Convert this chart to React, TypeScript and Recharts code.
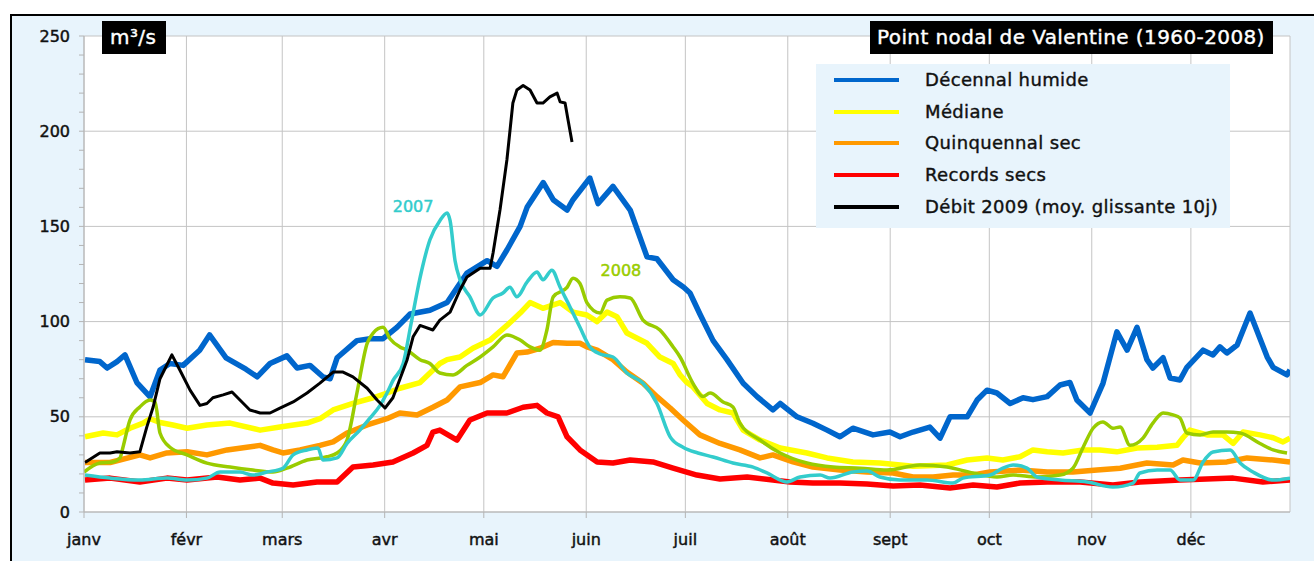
import React from 'react'
import { LineChart, Line, XAxis, YAxis, CartesianGrid, ReferenceDot } from 'recharts'

const FONT = '"DejaVu Sans", Verdana, sans-serif'
const PANEL = '#e8f4fc'

// axes (leap-year calendar, day 0 = 1 Jan)
const monthStarts = [0, 31, 60, 91, 121, 152, 182, 213, 244, 274, 305, 335]
const monthLabels = ['janv', 'févr', 'mars', 'avr', 'mai', 'juin', 'juil', 'août', 'sept', 'oct', 'nov', 'déc']
const gridDays = [0, 31, 60, 91, 121, 152, 182, 213, 244, 274, 305, 335, 365]
const yTicks = [0, 10, 20, 30, 40, 50, 60, 70, 80, 90, 100, 110, 120, 130, 140, 150, 160, 170, 180, 190, 200, 210, 220, 230, 240, 250]
const yGrid = [0, 50, 100, 150, 200, 250]

// series (day of year -> m3/s)
const humideDays = [0.3, 4.8, 7, 10, 12.4, 16, 20, 23, 26, 30, 35, 38, 43, 49, 52.4, 56.3, 61.4, 64.5, 68.4, 72.3, 74.5, 76.6, 82.6, 86.6, 90.5, 94.7, 98.7, 104.7, 109.9, 115.9, 122, 125, 128, 132, 134.1, 139, 142, 146.2, 148, 153.1, 155.6, 160.1, 165.3, 170.4, 173.4, 178.3, 181.5, 183.4, 186.4, 190.4, 194.6, 199.5, 203.7, 208.5, 210.7, 215.8, 220.6, 224.9, 228.8, 232.7, 238.8, 243.9, 247, 250.9, 256, 259.1, 262.1, 267.3, 270.3, 273.3, 276.3, 280.3, 284.2, 287.2, 291.5, 295.4, 298.4, 300.5, 304.5, 308.4, 312.6, 315.7, 318.7, 321.7, 323.5, 326.6, 328.7, 331.7, 333.8, 338.7, 341.7, 343.8, 345.9, 349, 352.9, 358.1, 359.9, 364.1, 365]
const humideFlow = [80, 79, 75.6, 79, 82.5, 68, 60.5, 74.6, 78, 77, 85, 93, 81, 75, 71, 78, 82, 75.6, 77, 71, 70, 81, 90, 91, 91, 97, 104, 106, 110, 125.5, 132, 129, 137.6, 150, 160, 173, 164, 158.6, 164, 175.4, 162, 171, 158.6, 134, 133, 122, 118, 115, 104, 90, 80, 67.6, 60.6, 53.6, 57, 50, 46.6, 43, 39.5, 44, 40.5, 42, 39.5, 42, 44.6, 38.8, 50, 50, 58.8, 64, 62.5, 57, 60, 59, 60.6, 66.7, 68, 58.8, 52, 67.6, 94.6, 85, 97, 80, 75.6, 81, 70.4, 69.3, 76, 85, 82.5, 86.7, 83.5, 87.7, 104.5, 81.4, 76, 72, 74.6]

const medianeDays = [0.3, 5.8, 10, 13.9, 17.9, 20, 23, 26.9, 31.2, 37.2, 44.2, 53.3, 59.3, 67.5, 71.4, 75.4, 81.4, 87.5, 91.7, 95.6, 101.7, 107.7, 109.9, 113.8, 117.7, 122.9, 128, 132, 135, 138.9, 144.1, 148, 152.2, 155.3, 158.3, 161.3, 164.3, 170.4, 174.3, 178.3, 180.4, 182.5, 184.3, 188.6, 192.5, 196.4, 199.5, 204.6, 210.7, 218.8, 224.9, 232.7, 240.9, 250.9, 261.2, 267.3, 273.3, 278.1, 283.3, 287.2, 291.5, 296.3, 302.4, 307.5, 312.6, 318.7, 324.8, 330.8, 332.6, 334.7, 339.9, 344.7, 347.8, 350.8, 355.9, 359.9, 362.9, 365]
const medianeFlow = [39.5, 41.5, 40.5, 44, 46.7, 49, 47, 45.7, 44, 45.7, 46.7, 43, 44.6, 46.7, 49, 53.6, 57, 60, 62.5, 65, 68, 78, 80, 81.4, 86, 90.3, 98, 104.5, 110, 107, 110, 105, 103.5, 100, 105, 102.6, 94, 88.6, 81.4, 78, 72, 68, 65.7, 57, 53.6, 52, 43, 37.8, 33.6, 31, 28.4, 26.3, 25.7, 24, 24.7, 27.3, 28.4, 27.3, 29, 32.6, 31.6, 31, 32.6, 32.6, 31.6, 33.6, 34, 35, 39, 43, 40.5, 40.5, 36, 42, 40.5, 39, 36.8, 38.8]

const quinqDays = [0.3, 7.9, 16.9, 20, 25.1, 31.2, 37.2, 43.3, 49.3, 53.3, 57.2, 60.2, 65.4, 71.4, 75.4, 79.6, 85.7, 91.7, 95.6, 100.8, 105.6, 109.9, 113.8, 119.9, 123.8, 126.8, 131, 134.1, 138, 142, 146.2, 150.1, 152.2, 155.3, 160.1, 164.3, 169.2, 173.4, 177.4, 181.3, 186.4, 192.5, 198.5, 204.6, 208.5, 214.6, 220.6, 228.8, 237, 244.9, 250.9, 257, 263, 269.1, 274.2, 283.3, 291.5, 299.3, 306.6, 313.6, 321.7, 329.6, 332.6, 337.8, 345.9, 352, 359.9, 365]
const quinqFlow = [26, 26, 30, 28.4, 31, 31.6, 30, 32.6, 34, 35, 32.6, 31, 32.6, 35, 36.8, 41.5, 45.7, 49, 52, 51, 55, 58.8, 65.7, 68, 72, 71, 83.5, 84, 86, 89, 88.6, 88.6, 86.7, 85, 80, 73.5, 67.6, 60.6, 54.6, 48.3, 40.5, 36, 32.6, 28.4, 30, 26.3, 23.6, 22, 21, 20.5, 18.4, 18.4, 19.4, 19.4, 21, 22, 21, 21, 22, 23, 25.7, 24.7, 27.3, 25.7, 26.3, 28.4, 27.3, 26.3]

const recordsDays = [0.3, 7.9, 16.9, 25.1, 31.2, 40.3, 47.2, 53.3, 57.2, 63.3, 70.5, 76.6, 81.4, 87.5, 93.5, 99.6, 103.8, 105.6, 107.7, 112.9, 116.8, 122, 128, 132.9, 137.1, 140.1, 143.5, 146.2, 150.1, 155.3, 160.1, 165.3, 172.2, 178.3, 185.5, 192.5, 200.7, 208.5, 213.7, 220.6, 228.8, 237, 244.9, 253, 262.1, 269.1, 276.3, 283.3, 291.5, 301.5, 311.4, 319.6, 331.7, 347.8, 356.8, 365]
const recordsFlow = [16.8, 17.8, 15.8, 17.8, 16.8, 18.4, 16.8, 17.8, 15.2, 14.2, 15.8, 15.8, 23.6, 24.7, 26.3, 31, 35, 42, 43, 37.8, 48.3, 52, 52, 55, 56, 52, 50, 39.5, 32.6, 26.3, 25.7, 27.3, 26.3, 23, 19.4, 17.3, 18.4, 16.8, 15.8, 15.2, 15.2, 14.7, 13.7, 14.2, 12.6, 14.2, 13.1, 15.2, 15.8, 15.8, 14.2, 15.8, 16.8, 17.8, 15.8, 16.8]

const debit2009Days = [0.3, 4.8, 7.9, 10, 13.9, 16.9, 19, 20.9, 23, 26.6, 29, 32.1, 35.1, 37.2, 39, 42.1, 44.8, 47.2, 50.2, 53.3, 56.3, 59.3, 63.3, 67.5, 71.4, 75.4, 78.4, 81.4, 85.7, 88.7, 91.1, 93.5, 97.8, 99.6, 101.7, 105.6, 107.7, 110.8, 113.8, 115.9, 119.9, 122.9, 123.8, 125.9, 128, 129.8, 131, 132.9, 135, 137.1, 138.9, 141, 143.2, 144.1, 145.6, 146.5, 147.7]
const debit2009Flow = [26, 31, 31, 31.6, 31, 31.6, 44.6, 55, 70, 82.5, 74.6, 64, 56, 57, 60, 61.5, 63, 58.8, 53.6, 52, 52, 54.6, 57.8, 62.5, 67.7, 73.5, 73.5, 71, 65, 58.8, 54.6, 60, 80, 92, 98, 95.6, 100.8, 105, 116.6, 123.4, 128, 128, 136, 158.6, 185, 214.8, 221.6, 224, 221.6, 214.8, 214.8, 218, 220, 215.4, 214.8, 205.9, 194.3]

const y2007Days = [0.3, 7.9, 16.9, 25.1, 31.2, 37.2, 41.2, 47.2, 51.1, 55.4, 60.2, 63.3, 67.5, 70.8, 72.3, 76.6, 79.6, 83.5, 86.6, 89.6, 91.7, 93.5, 96.6, 99, 101.7, 104.7, 107.7, 109.9, 110.8, 112.3, 113.8, 116.8, 119.9, 123.8, 126.8, 128.9, 131, 134.1, 137.1, 138.9, 141.6, 144.1, 147.1, 150.1, 153.1, 156.2, 160.1, 164.3, 169.2, 173.4, 177.4, 181.3, 185.8, 190.4, 196.4, 202.5, 206.7, 212.8, 216.7, 222.8, 225.8, 232.7, 237, 240.9, 247, 255.1, 263, 266, 274.2, 278.1, 281.2, 285.4, 288.4, 295.4, 303.6, 311.4, 317.5, 319.6, 324.8, 328.7, 331.7, 335.7, 338.7, 341.7, 346.9, 349.9, 353.8, 359.9, 365]
const y2007Flow = [19.4, 17.8, 16.8, 17.8, 16.8, 17.8, 21, 21, 19.4, 21, 23, 30, 32.6, 33.6, 27.3, 28.4, 36, 43, 49.4, 56, 62.5, 69, 78, 99, 123, 143, 153, 157, 153, 132, 122, 113, 103.5, 112.4, 115, 118, 113, 120.8, 126, 122, 127, 118, 107.7, 97, 86.7, 83, 81.4, 73, 67.6, 57, 39.5, 34, 31, 28.9, 25.7, 23.6, 20.5, 15.8, 18.4, 19.4, 17.8, 21, 21.5, 18.4, 16.8, 16.8, 15.2, 17.8, 19.4, 23, 24.7, 23, 18.4, 16.8, 15.8, 13.1, 15.2, 20.5, 22, 22, 16.8, 16.8, 26.3, 31.5, 32.6, 25.7, 21, 16.8, 17.8]

const y2008Days = [0, 4.8, 8.8, 10.9, 11.8, 13.9, 16.9, 20, 21.5, 23, 26, 31.2, 37.2, 44.2, 51.1, 57.2, 61.4, 67.5, 73.5, 76.6, 79.6, 82.6, 85.7, 87.5, 90.5, 92.6, 95.6, 97.8, 101.7, 104.7, 107.7, 111.7, 115.9, 119.9, 123.8, 128, 132, 135, 138, 140.1, 142, 146.2, 148, 150.1, 152.2, 156.2, 158.3, 162.2, 165.3, 169.2, 174.3, 178.3, 180.4, 184.3, 187.3, 189.5, 193.4, 196.4, 198.5, 204.6, 210.7, 218.8, 226.7, 234.9, 243, 253, 261.2, 269.1, 276.3, 281.2, 288.4, 295.4, 299.3, 302.4, 305.4, 308.4, 311.4, 313.6, 316.6, 320.5, 323.5, 326.6, 329.6, 331.7, 333.8, 337.8, 341.7, 345.9, 349.9, 355.9, 359.9, 364.1]
const y2008Flow = [21, 25.7, 26.3, 28.4, 34, 48.3, 55.2, 58.8, 57.8, 41.5, 34, 30, 25.7, 23.6, 22, 21, 23, 27.3, 29, 31, 37.8, 62.5, 88.6, 94, 97, 91, 86.7, 85, 80, 78, 73, 72, 77, 81.4, 86.7, 93, 90.3, 86.7, 85, 95.6, 113, 118, 122.8, 120, 110, 104.5, 111.3, 113, 112.4, 100.8, 95.6, 86.7, 81.4, 67.6, 60.6, 62.5, 57.8, 55.2, 46.7, 37.8, 31, 25.7, 23.6, 23, 22, 24.7, 23.6, 20.5, 18.4, 19.4, 18.4, 19.4, 23, 34, 44, 47.3, 44, 44.6, 35, 38.8, 46.7, 52, 51, 49.4, 41.5, 40.5, 42, 42, 41.5, 36, 32.6, 31]

const legendNames = ['Décennal humide', 'Médiane', 'Quinquennal sec', 'Records secs', 'Débit 2009 (moy. glissante 10j)']
const legendColors = ['#0066cc', '#ffff00', '#ff9900', '#ff0000', '#000000']

const pts = (days: number[], flow: number[]) => days.map((d, i) => ({ day: d, flow: flow[i] }))

const boxStyle: React.CSSProperties = {
  position: 'absolute', top: 21, height: 33, background: '#000', color: '#fff',
  fontSize: 20, lineHeight: '33px', boxSizing: 'border-box', whiteSpace: 'nowrap',
  WebkitTextStroke: '0.4px #fff', letterSpacing: 0.4,
}

export default function App() {
  const tickStyle = { fontSize: 16, fill: '#111', stroke: '#111', strokeWidth: 0.45, fontFamily: FONT }
  return (
    <div style={{ position: 'absolute', left: 0, top: 0, width: 1314, height: 561, background: '#fff', overflow: 'hidden', fontFamily: FONT }}>
      <div style={{ position: 'absolute', left: 10, top: 14, width: 1320, height: 560, borderTop: '2px solid #000', borderLeft: '2px solid #000', background: PANEL }} />
      <div style={{ position: 'absolute', left: 0, top: 0 }}>
        <LineChart width={1314} height={561} margin={{ top: 36, right: 24, bottom: 19, left: 0 }}>
          <CartesianGrid fill="#fff" stroke="#c4c4c4" horizontalValues={yGrid} verticalValues={gridDays} />
          <XAxis
            dataKey="day" type="number" domain={[0, 365]} ticks={monthStarts} allowDataOverflow
            tickFormatter={(v: number) => monthLabels[monthStarts.indexOf(v)] ?? ''}
            tick={tickStyle} tickSize={6} tickMargin={16} height={30}
            stroke="#b4b4b4"
          />
          <YAxis
            type="number" domain={[0, 250]} ticks={yTicks} interval={0} width={84}
            tickFormatter={(v: number) => (v % 50 === 0 ? String(v) : '')}
            tick={tickStyle} tickSize={5} tickMargin={9} stroke="#b4b4b4"
          />
          <Line data={pts(medianeDays, medianeFlow)} dataKey="flow" name="Médiane" stroke="#ffff00" strokeWidth={5.5} dot={false} isAnimationActive={false} strokeLinejoin="round" />
          <Line data={pts(quinqDays, quinqFlow)} dataKey="flow" name="Quinquennal sec" stroke="#ff9900" strokeWidth={5.5} dot={false} isAnimationActive={false} strokeLinejoin="round" />
          <Line data={pts(recordsDays, recordsFlow)} dataKey="flow" name="Records secs" stroke="#ff0000" strokeWidth={5.5} dot={false} isAnimationActive={false} strokeLinejoin="round" />
          <Line data={pts(humideDays, humideFlow)} dataKey="flow" name="Décennal humide" stroke="#0066cc" strokeWidth={5.5} dot={false} isAnimationActive={false} strokeLinejoin="round" />
          <Line data={pts(y2008Days, y2008Flow)} dataKey="flow" name="2008" type="monotone" stroke="#99cc00" strokeWidth={3.5} dot={false} isAnimationActive={false} />
          <Line data={pts(y2007Days, y2007Flow)} dataKey="flow" name="2007" type="monotone" stroke="#33cccc" strokeWidth={3.5} dot={false} isAnimationActive={false} />
          <Line data={pts(debit2009Days, debit2009Flow)} dataKey="flow" name="Débit 2009" stroke="#000" strokeWidth={3} dot={false} isAnimationActive={false} strokeLinejoin="round" />
          <ReferenceDot x={99.6} y={160.7} r={0} fill="none" stroke="none"
            label={{ value: '2007', position: 'center', fill: '#33cccc', stroke: '#33cccc', strokeWidth: 0.5, fontSize: 16, fontFamily: FONT }} />
          <ReferenceDot x={162.5} y={127} r={0} fill="none" stroke="none"
            label={{ value: '2008', position: 'center', fill: '#99cc00', stroke: '#99cc00', strokeWidth: 0.5, fontSize: 16, fontFamily: FONT }} />
        </LineChart>
      </div>
      <div style={{ ...boxStyle, left: 102, width: 64, paddingLeft: 8 }}>m³/s</div>
      <div style={{ ...boxStyle, left: 870, width: 403, paddingLeft: 7 }}>Point nodal de Valentine (1960-2008)</div>
      <div style={{ position: 'absolute', left: 816, top: 64, width: 414, height: 164, background: PANEL }}>
        {legendNames.map((name, i) => (
          <div key={name} style={{ position: 'absolute', left: 0, top: i * 31.7, height: 32, width: 414 }}>
            <div style={{ position: 'absolute', left: 18, top: 14, width: 65, height: 4, background: legendColors[i] }} />
            <div style={{ position: 'absolute', left: 109, top: 4, fontSize: 18, lineHeight: '24px', color: '#111', whiteSpace: 'nowrap', WebkitTextStroke: '0.4px #111', letterSpacing: 0.35 }}>{name}</div>
          </div>
        ))}
      </div>
    </div>
  )
}
